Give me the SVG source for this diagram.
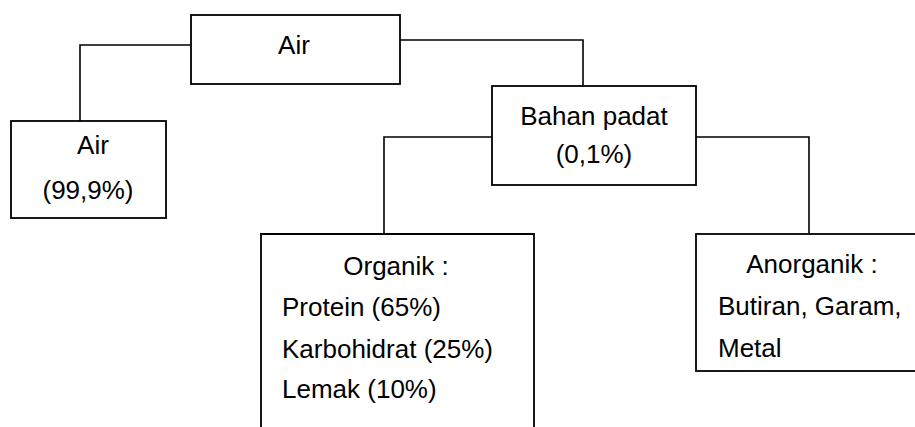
<svg xmlns="http://www.w3.org/2000/svg" width="915" height="427" viewBox="0 0 915 427">
<style>
.box{fill:#fff;stroke:#000;stroke-width:1.8}
.conn{fill:none;stroke:#000;stroke-width:1.6}
text{font-family:"Liberation Sans",Arial,sans-serif;font-size:26px;fill:#000}
.c{text-anchor:middle}
</style>
<rect width="915" height="427" fill="#fff"/>
<g id="connectors">
<path class="conn" d="M191,45 H80 V121"/>
<path class="conn" d="M400,40 H583 V86"/>
<path class="conn" d="M492,137 H384 V234"/>
<path class="conn" d="M696,137 H809 V234"/>
</g>
<g id="node-air-top">
<rect class="box" x="191" y="15" width="209" height="69"/>
<text class="c" x="294" y="54">Air</text>
</g>
<g id="node-air-left">
<rect class="box" x="11" y="121" width="155" height="97"/>
<text class="c" x="93" y="154">Air</text>
<text class="c" x="88" y="199">(99,9%)</text>
</g>
<g id="node-bahan-padat">
<rect class="box" x="492" y="86" width="204" height="99"/>
<text class="c" x="594" y="125">Bahan padat</text>
<text class="c" x="594" y="163">(0,1%)</text>
</g>
<g id="node-organik">
<path class="box" d="M261,430 V234 H534 V430"/>
<text class="c" x="396" y="275">Organik :</text>
<text x="282" y="316">Protein (65%)</text>
<text x="282" y="358">Karbohidrat (25%)</text>
<text x="282" y="398">Lemak (10%)</text>
</g>
<g id="node-anorganik">
<rect class="box" x="696" y="234" width="230" height="137"/>
<text class="c" x="812" y="273">Anorganik :</text>
<text x="718" y="315">Butiran, Garam,</text>
<text x="718" y="357">Metal</text>
</g>
</svg>
